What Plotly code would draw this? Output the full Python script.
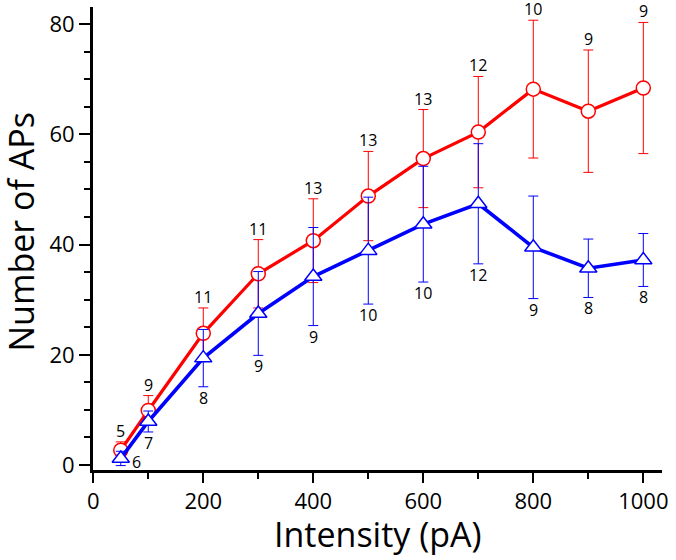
import plotly.graph_objects as go

intensity = [50, 100, 200, 300, 400, 500, 600, 700, 800, 900, 1000]
red_mean = [2.7, 9.9, 23.9, 34.7, 40.7, 48.8, 55.6, 60.4, 68.2, 64.2, 68.4]
red_err = [1.5, 2.7, 4.6, 6.2, 7.6, 8.1, 8.9, 10.1, 12.5, 11.1, 11.9]
red_n = [5, 9, 11, 11, 13, 13, 13, 12, 10, 9, 9]
blue_mean = [1.2, 7.9, 19.4, 27.5, 34.2, 38.9, 43.7, 47.4, 39.5, 35.7, 37.2]
blue_err = [1.3, 1.9, 5.2, 7.6, 8.9, 9.7, 10.5, 10.9, 9.3, 5.3, 4.8]
blue_n = [6, 7, 8, 9, 9, 10, 10, 12, 9, 8, 8]

x_ticks = [0, 200, 400, 600, 800, 1000]
y_ticks = [0, 20, 40, 60, 80]

FONT = "Open Sans"
RED = "#ff0000"
BLUE = "#0000ff"

fig = go.Figure()
fig.add_trace(go.Scatter(
    x=intensity, y=red_mean, mode="lines+markers",
    line=dict(color=RED, width=3.2),
    marker=dict(symbol="circle", size=14, color="white", line=dict(color=RED, width=1.5)),
    error_y=dict(type="data", array=red_err, visible=True, color=RED, thickness=1, width=5),
    showlegend=False,
))
fig.add_trace(go.Scatter(
    x=intensity, y=blue_mean, mode="lines+markers",
    line=dict(color=BLUE, width=3.6),
    marker=dict(symbol="triangle-up", size=15, color="white", line=dict(color=BLUE, width=1.5)),
    error_y=dict(type="data", array=blue_err, visible=True, color=BLUE, thickness=1, width=5),
    showlegend=False,
))

anns = []
for xi, m, e, n in zip(intensity, red_mean, red_err, red_n):
    anns.append(dict(x=xi, y=m + e, text=str(n), showarrow=False, yanchor="bottom",
                     yshift=-2, font=dict(size=16, color="black", family=FONT)))
for i, (xi, m, e, n) in enumerate(zip(intensity, blue_mean, blue_err, blue_n)):
    if i == 0:
        anns.append(dict(x=xi, y=m - e, text=str(n), showarrow=False, xanchor="left",
                         yanchor="middle", xshift=9, yshift=4,
                         font=dict(size=16, color="black", family=FONT)))
    else:
        anns.append(dict(x=xi, y=m - e, text=str(n), showarrow=False, yanchor="top",
                         yshift=2, font=dict(size=16, color="black", family=FONT)))

# axis titles placed as paper annotations
anns.append(dict(xref="paper", yref="paper", x=0.5, y=-0.138, text="Intensity (pA)",
                 showarrow=False, xanchor="center", yanchor="middle",
                 font=dict(size=34, color="black", family=FONT)))
anns.append(dict(xref="paper", yref="paper", x=-0.1257, y=0.514, text="Number of APs",
                 showarrow=False, xanchor="center", yanchor="middle", textangle=-90,
                 font=dict(size=34, color="black", family=FONT)))

fig.update_layout(
    width=676, height=560,
    margin=dict(l=93, r=14, t=7, b=90, autoexpand=False),
    paper_bgcolor="white", plot_bgcolor="white",
    font=dict(family=FONT, color="black"),
    annotations=anns,
    xaxis=dict(
        range=[-0.5, 1034], tickvals=x_ticks, ticks="outside", ticklen=10, tickwidth=2,
        tickcolor="black", showline=True, linecolor="black", linewidth=3,
        showgrid=False, zeroline=False, tickfont=dict(size=22, family=FONT),
        ticklabelstandoff=0, automargin=False, ticklabeloverflow="allow",
        minor=dict(tickvals=[100, 300, 500, 700, 900], ticks="outside", ticklen=6,
                   tickwidth=2, tickcolor="black"),
    ),
    yaxis=dict(
        range=[-0.9, 83.1], tickvals=y_ticks, ticks="outside", ticklen=11, tickwidth=2,
        tickcolor="black", showline=True, linecolor="black", linewidth=3,
        showgrid=False, zeroline=False, tickfont=dict(size=22, family=FONT),
        ticklabelstandoff=0, automargin=False, ticklabeloverflow="allow",
        minor=dict(dtick=5, ticks="outside", ticklen=6, tickwidth=2, tickcolor="black"),
    ),
)

fig.write_html("out.html", config={"displayModeBar": False},
               post_script="document.body.style.margin='0';")
